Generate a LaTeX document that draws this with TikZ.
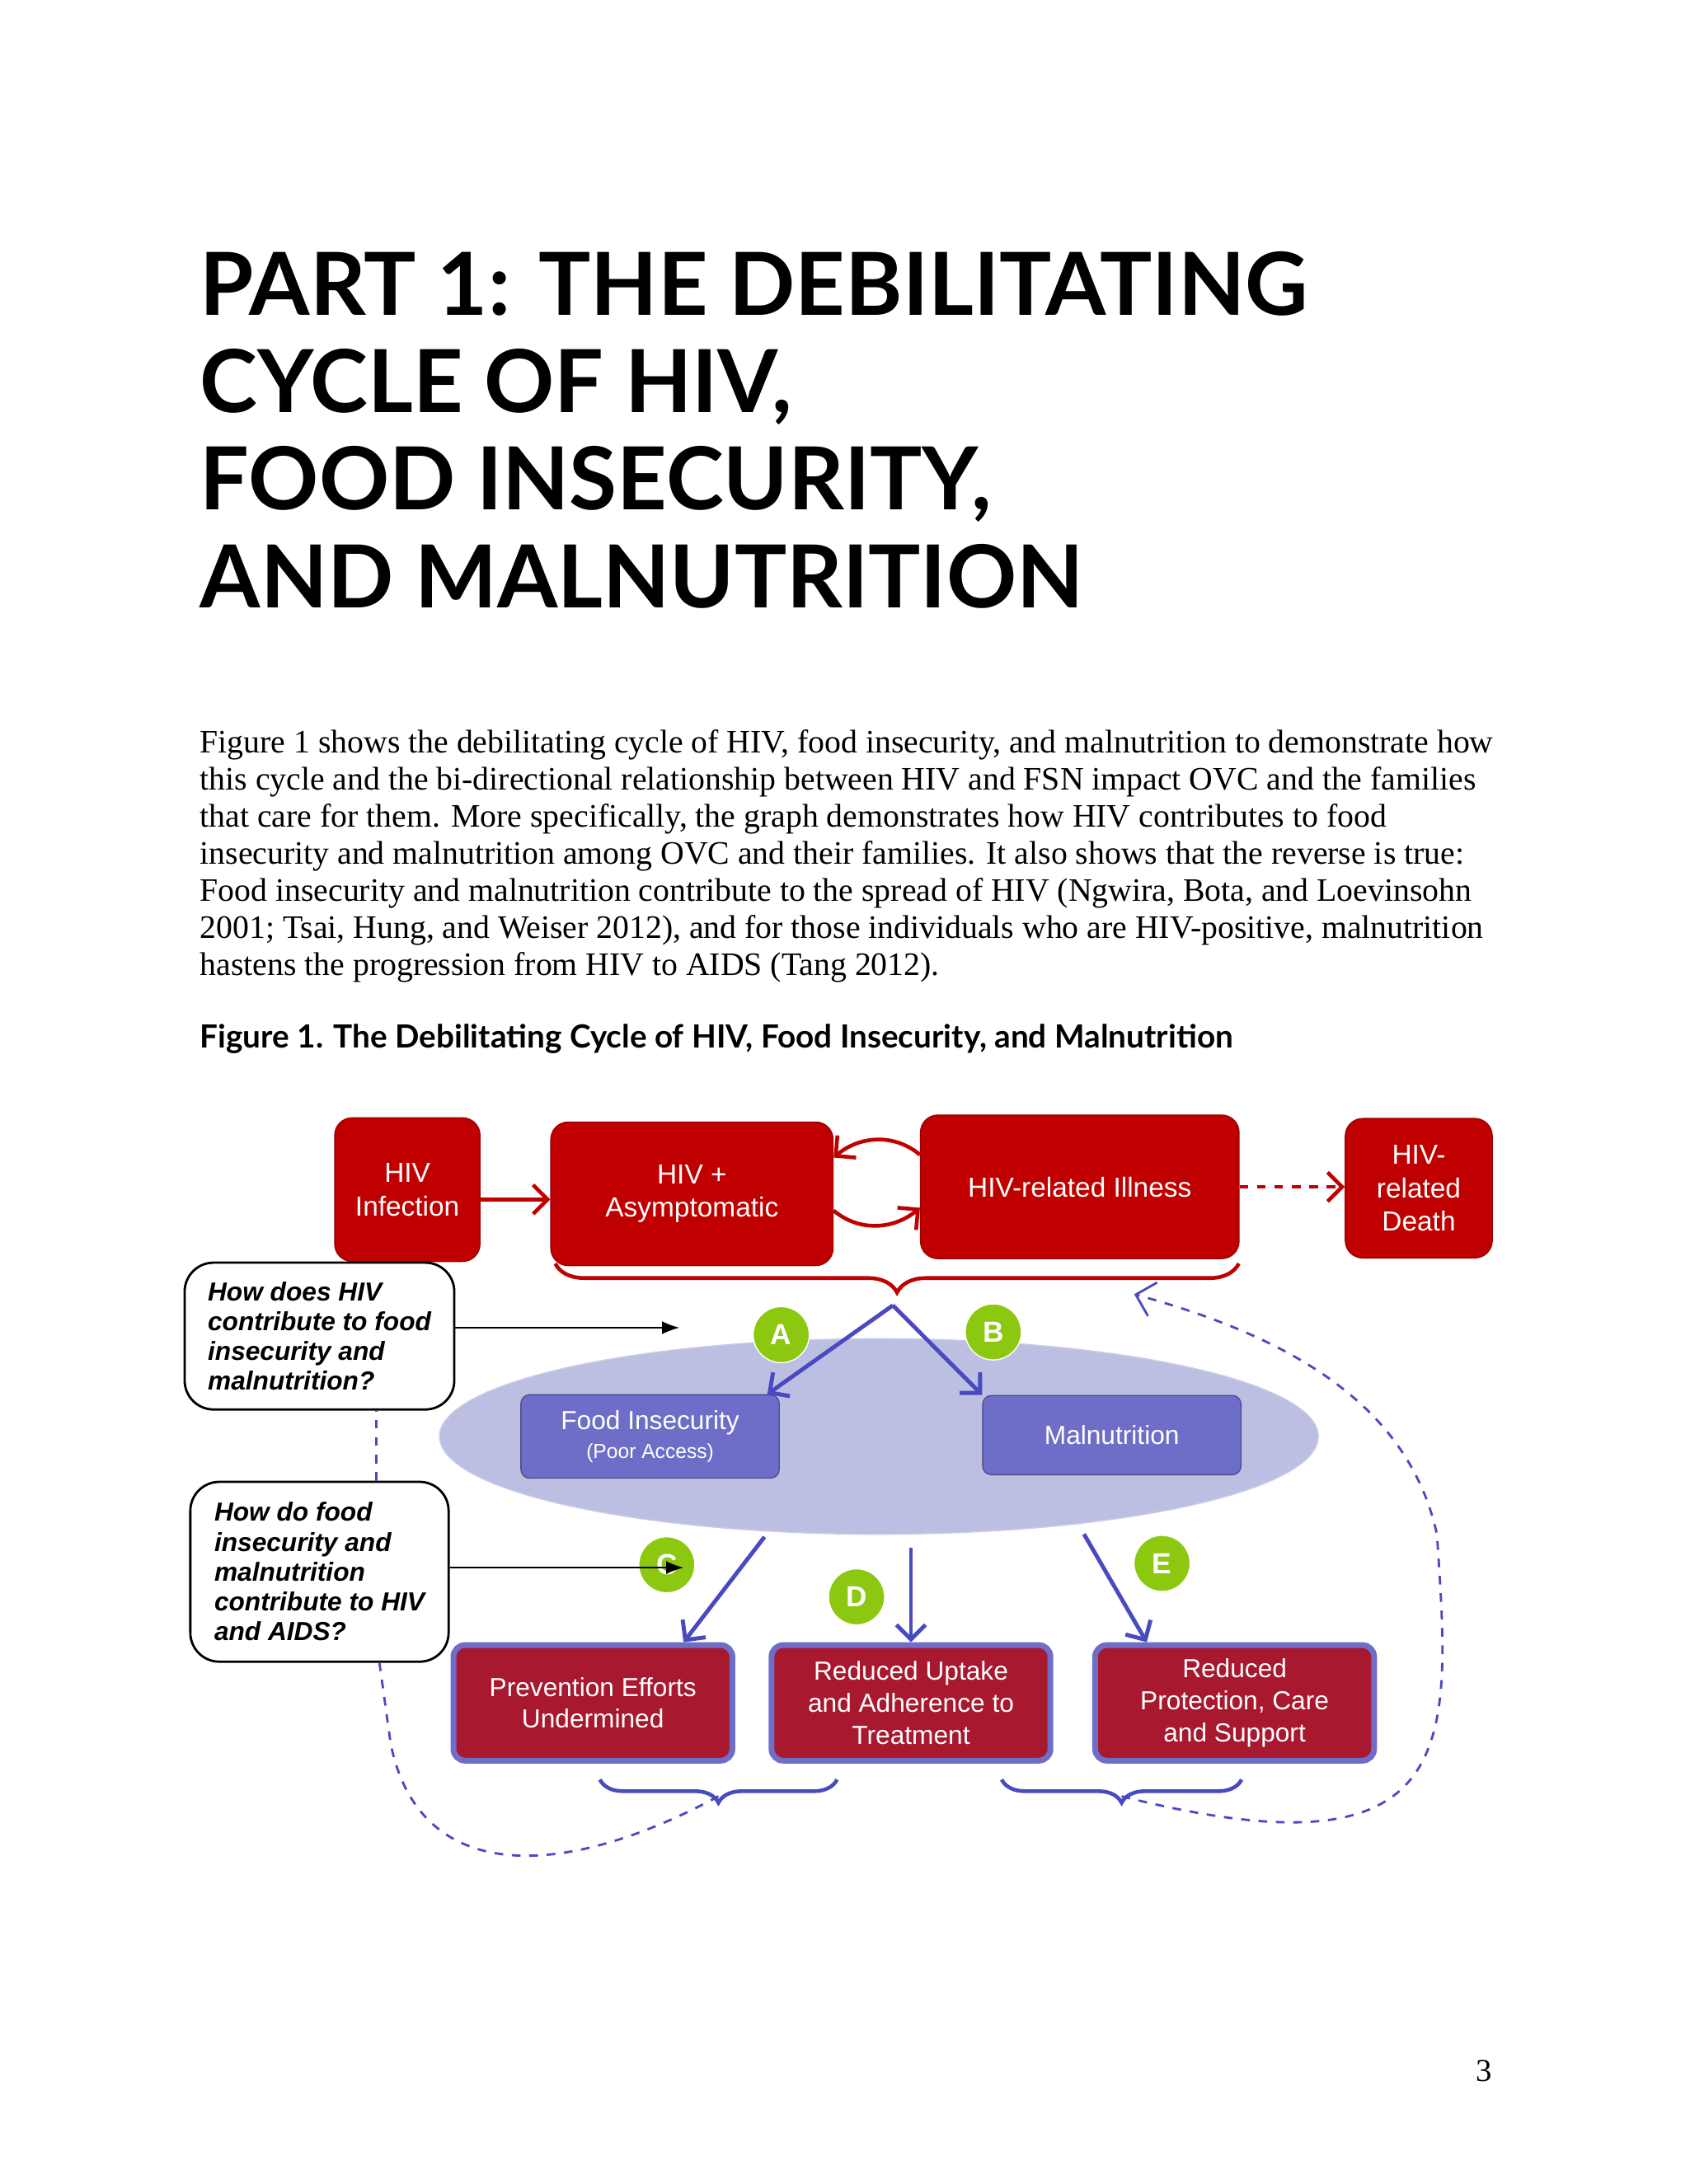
\documentclass[tikz,border=0pt]{standalone}
\usepackage{fontspec}
\setmainfont{Liberation Serif}
\newfontfamily\headfont{Lato}
\newfontfamily\boxfont{Liberation Sans}
\usetikzlibrary{positioning,calc,decorations.pathreplacing,arrows.meta,shapes.geometric}
\definecolor{hivred}{HTML}{C00000}
\definecolor{darkred}{HTML}{A8182E}
\definecolor{boxblue}{HTML}{6E6EC8}
\definecolor{ovalblue}{HTML}{BCBFE2}
\definecolor{dotgreen}{HTML}{8CC810}
\definecolor{arrowblue}{HTML}{4A4AC0}
\begin{document}
\begin{tikzpicture}[x=0.01691cm,y=-0.01691cm]
    \tikzstyle{redbox}=[draw=hivred!80!black, fill=hivred, rounded corners=6pt, text=white, font=\boxfont\fontsize{9.5}{11.5}\selectfont, align=center, minimum height=1.74cm]
    \tikzstyle{bluebox}=[draw=boxblue!70!black, fill=boxblue, rounded corners=3pt, text=white, font=\boxfont\fontsize{9}{11}\selectfont, align=center, minimum width=3.13cm]
    \tikzstyle{effect}=[draw=boxblue, line width=2pt, fill=darkred, rounded corners=4pt, text=white, font=\boxfont\fontsize{9}{11}\selectfont, align=center, minimum width=3.38cm, minimum height=1.40cm]
    \tikzstyle{question}=[draw, thick, rounded corners=10pt, fill=white, font=\boxfont\bfseries\itshape\fontsize{9}{10.3}\selectfont, align=left, minimum width=3.13cm, inner xsep=8pt]
    \tikzstyle{letter}=[circle, fill=dotgreen, draw=white, text=white, font=\boxfont\bfseries\fontsize{10}{10}\selectfont, minimum size=0.68cm, inner sep=0pt]
    \tikzstyle{bluearrow}=[draw=arrowblue, line width=1.4pt, -{Straight Barb[length=5pt]}]
    \tikzstyle{bluebrace}=[draw=arrowblue, line width=1.3pt, decorate, decoration={brace, amplitude=8pt}]
    \tikzstyle{loop}=[draw=arrowblue, thick, dashed]
    \useasboundingbox (0,0) rectangle (1211,1566);

    % heading and text
    \node (Title) [anchor=north west, align=left, font=\headfont\bfseries\fontsize{30}{33.6}\selectfont, inner sep=0pt] at (143,180)
        {PART 1: THE DEBILITATING\\CYCLE OF HIV,\\FOOD INSECURITY,\\AND MALNUTRITION};
    \node (Text) [anchor=north west, align=left, font=\fontsize{11.3}{12.8}\selectfont, inner sep=0pt] at (143,523)
        {Figure 1 shows the debilitating cycle of HIV, food insecurity, and malnutrition to demonstrate how\\
         this cycle and the bi-directional relationship between HIV and FSN impact OVC and the families\\
         that care for them. More specifically, the graph demonstrates how HIV contributes to food\\
         insecurity and malnutrition among OVC and their families. It also shows that the reverse is true:\\
         Food insecurity and malnutrition contribute to the spread of HIV (Ngwira, Bota, and Loevinsohn\\
         2001; Tsai, Hung, and Weiser 2012), and for those individuals who are HIV-positive, malnutrition\\
         hastens the progression from HIV to AIDS (Tang 2012).};
    \node (Caption) [anchor=west, inner sep=0pt, font=\headfont\bfseries\fontsize{11}{13}\selectfont] at (143,745)
        {Figure 1. The Debilitating Cycle of HIV, Food Insecurity, and Malnutrition};

    % HIV stages
    \node (Infection) [redbox, minimum width=1.76cm] at (292,853) {HIV\\Infection};
    \node (Asympt) [redbox, minimum width=3.42cm] at (496,856) {HIV +\\Asymptomatic};
    \node (Illness) [redbox, minimum width=3.86cm] at (774,851) {HIV-related Illness};
    \node (Death) [redbox, minimum width=1.78cm, minimum height=1.69cm] at (1017,852) {HIV-\\related\\Death};
    \draw [hivred, line width=1.3pt, -{Straight Barb[length=5pt]}] (Infection.east |- 0,860) -- (Asympt.west |- 0,860);
    \draw [hivred, line width=1.3pt, dashed, -{Straight Barb[length=5pt]}] (Illness.east |- 0,851) -- (Death.west |- 0,851);
    \draw [hivred, line width=1.3pt, -{Straight Barb[length=5pt]}] (Illness.west |- 0,828) to[out=140, in=40] (Asympt.east |- 0,830);
    \draw [hivred, line width=1.3pt, -{Straight Barb[length=5pt]}] (Asympt.east |- 0,868) to[out=-40, in=-140] (Illness.west |- 0,866);
    \draw [hivred, line width=1.3pt, decorate, decoration={brace, mirror, amplitude=10pt}] (398,906) -- coordinate[pos=0.5] (BraceTip) (888,906);

    % nutrition
    \node (Oval) [ellipse, fill=ovalblue, draw=ovalblue!80!white, minimum width=10.65cm, minimum height=2.37cm] at (630,1030) {};
    \node (Food) [bluebox, minimum height=1.01cm] at (466,1030) {Food Insecurity\\[-1pt]{\fontsize{7}{8}\selectfont(Poor Access)}};
    \node (Malnut) [bluebox, minimum height=0.96cm] at (797,1029) {Malnutrition};
    \coordinate (Split) at (640,936);
    \draw [bluearrow] (Split) -- (Food.north -| 550,0);
    \draw [bluearrow] (Split) -- (Malnut.north west);
    \node (A) [letter] at (560,957) {A};
    \node (B) [letter] at (712,955) {B};

    % questions
    \node (Q1) [question, minimum height=1.78cm] at (229,958) {How does HIV\\contribute to food\\insecurity and\\malnutrition?};
    \node (Q2) [question, minimum height=2.18cm] at (229,1127) {How do food\\insecurity and\\malnutrition\\contribute to HIV\\and AIDS?};
    \coordinate (Q1end) at (487,952);
    \coordinate (Q2end) at (490,1124);

    % consequences
    \node (Prevent) [effect] at (425,1221) {Prevention Efforts\\Undermined};
    \node (Uptake) [effect] at (653,1221) {Reduced Uptake\\and Adherence to\\Treatment};
    \node (Protect) [effect] at (885,1221) {Reduced\\Protection, Care\\and Support};
    \draw [bluearrow] (548,1102) -- (Prevent.north -| 490,0);
    \draw [bluearrow] (653,1110) -- (Uptake.north -| 653,0);
    \draw [bluearrow] (777,1100) -- (Protect.north -| 822,0);
    \node (C) [letter] at (478,1122) {C};
    \node (D) [letter] at (614,1145) {D};
    \node (E) [letter] at (833,1121) {E};
    \draw [-{Latex[length=6pt]}] (Q1.east |- Q1end) -- (Q1end);
    \draw [-{Latex[length=6pt]}] (Q2.east |- Q2end) -- (Q2end);

    \draw [bluebrace] (600,1276) -- coordinate[pos=0.5] (LeftTip) (430,1276);
    \draw [bluebrace] (890,1276) -- coordinate[pos=0.5] (RightTip) (718,1276);
    \path (LeftTip) ++(0,12) coordinate (LeftEnd);
    \path (RightTip) ++(0,12) coordinate (RightEnd);

    % feedback loops
    \draw [loop] (LeftEnd) .. controls (400,1350) and (300,1350) .. (280,1250) -- (Q2.south -| 272,0);
    \draw [loop] (Q2.north -| 270,0) -- (Q1.south -| 270,0);
    \draw [loop, -{Straight Barb[length=6pt]}] (RightEnd) .. controls (1050,1350) and (1040,1250) .. (1030,1100) .. controls (1010,1010) and (930,960) .. (813,928);

    \node (Page) [font=\fontsize{11}{13}\selectfont] at (1064,1485) {3};
\end{tikzpicture}
\end{document}
